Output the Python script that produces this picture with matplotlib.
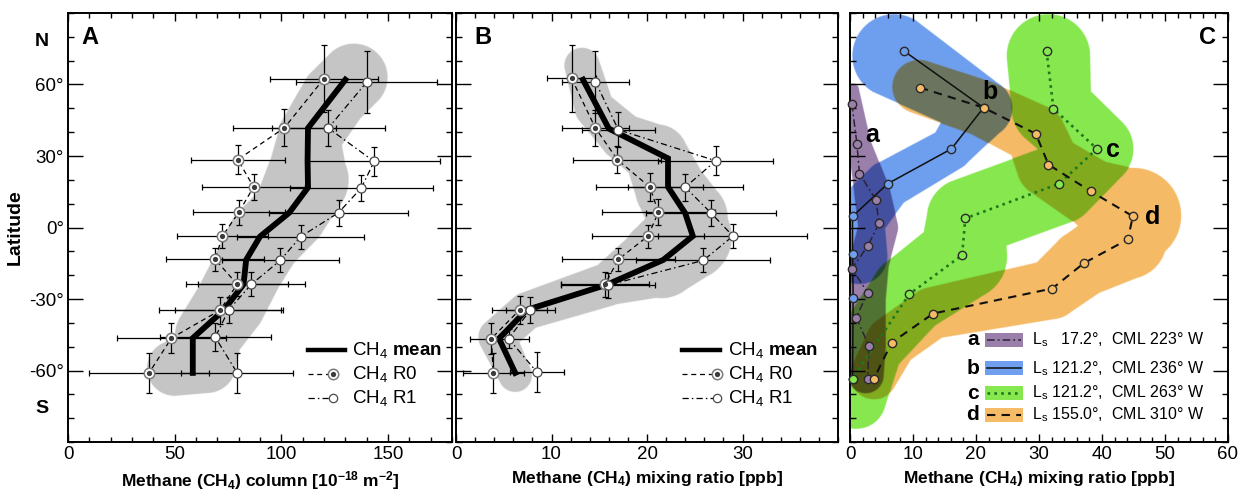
import numpy as np
import matplotlib
matplotlib.use('Agg')
import matplotlib.pyplot as plt
from matplotlib.colors import to_rgb
from matplotlib.patches import Rectangle
from matplotlib.ticker import MultipleLocator

plt.rcParams['font.family'] = ['Liberation Sans', 'DejaVu Sans']
plt.rcParams['mathtext.fontset'] = 'custom'
plt.rcParams['mathtext.rm'] = 'Liberation Sans'
plt.rcParams['mathtext.it'] = 'Liberation Sans:italic'
plt.rcParams['mathtext.bf'] = 'Liberation Sans:bold'

# ---------------- data: panel A (column, 10^-18 m^-2) ----------------
a_r0_lat = [62.5, 41.8, 28.5, 17.0, 6.3, -3.7, -13.4, -23.8, -34.7, -46.4, -61.0]
a_r0 = [120, 101.4, 79.6, 87, 80, 72.3, 69, 79.3, 71.3, 48.5, 38]
a_r0_xerr = [25.5, 24, 22, 24, 21.6, 21.3, 23, 24, 28.6, 25.5, 28]
a_r0_yerr = [14, 7.8, 6, 5.6, 5.4, 5, 5, 5, 5.7, 6.3, 8.4]
a_r1_lat = [61.0, 41.7, 27.7, 16.6, 6.2, -3.9, -13.8, -23.8, -34.6, -46.0, -61.0]
a_r1 = [140, 122, 143.5, 137.5, 126.8, 109, 99.5, 86, 75.3, 69, 79.3]
a_r1_xerr = [33, 26.6, 31, 33.6, 32.6, 29.8, 27.5, 25, 25.3, 26, 26.2]
a_r1_yerr = [13, 7.5, 6, 5.6, 5.4, 5, 5, 5, 5.5, 6, 8.4]
a_mean_lat = [62, 41.7, 28, 16.8, 6.2, -3.8, -13.6, -23.8, -34.7, -46.4, -61]
a_mean = [130, 112.5, 112.3, 112.5, 103.7, 90, 83.5, 82.3, 73, 58.5, 58.5]
# grey envelope (centre path, data units) and half width (px)
a_band_x = [50, 65, 66, 76, 84, 92, 104, 112, 113, 125, 134]
a_band_lat = [-59, -57, -45, -32, -18, -5, 6, 20, 38, 55, 63]
a_band_hw = [28, 30, 34, 36, 36, 38, 38, 42, 32, 34, 34]

# ---------------- data: panel B (mixing ratio, ppb) ----------------
b_r0_lat = [62.6, 41.7, 28.5, 16.9, 6.4, -3.6, -13.4, -23.8, -34.6, -46.6, -61.0]
b_r0 = [12.1, 14.6, 16.9, 20.3, 21.2, 20.1, 17.0, 15.6, 6.65, 3.7, 3.9]
b_r0_xerr = [2.6, 3.5, 4.6, 5.6, 5.9, 5.9, 5.9, 4.6, 2.85, 2.2, 3.2]
b_r0_yerr = [14, 7.7, 5.7, 5.9, 5.4, 4.8, 5, 5.2, 5.7, 6.6, 8.4]
b_r1_lat = [61.2, 41.0, 28.0, 16.9, 6.1, -3.6, -13.8, -24.2, -34.6, -46.6, -60.8]
b_r1 = [14.6, 17.0, 27.2, 24.0, 26.7, 29.0, 25.9, 15.9, 7.8, 5.5, 8.5]
b_r1_xerr = [3.5, 3.8, 6.0, 6.0, 6.8, 7.8, 7.0, 4.9, 2.6, 2.1, 2.8]
b_r1_yerr = [13, 7.3, 6, 5.6, 5.4, 5, 5, 5.2, 5.5, 4, 8.4]
b_mean_lat = [62, 41.5, 29, 17, 6, -3.6, -13.6, -24, -34.6, -46.6, -61]
b_mean = [13.3, 16.0, 22.2, 22.2, 24.0, 24.8, 21.7, 15.8, 7.4, 4.5, 6.2]
b_band_x = [13.2, 14.5, 17.5, 21.0, 22.5, 24.3, 24.3, 21.5, 15.8, 7.4, 4.3, 6.2]
b_band_lat = [68, 50, 38, 30, 16, 4, -4, -13, -24, -35, -46, -62]
b_band_hw = [18, 20, 24, 32, 36, 40, 44, 40, 22, 19, 19, 17]

# ---------------- data: panel C (individual observations, ppb) ----------------
c_names = ['a', 'b', 'c', 'd']
c_legend = [r'L$_\mathrm{s}$   17.2°,  CML 223° W',
            r'L$_\mathrm{s}$ 121.2°,  CML 236° W',
            r'L$_\mathrm{s}$ 121.2°,  CML 263° W',
            r'L$_\mathrm{s}$ 155.0°,  CML 310° W']
ca_lat = [51.9, 35.1, 22.6, 11.7, 1.7, -7.8, -17.3, -27.3, -37.8, -49.7, -63.5]
ca_x = [0.3, 1.1, 1.5, 4.1, 4.6, 2.8, 0.3, 2.8, 1.0, 3.0, 2.8]
cb_lat = [74, 50.3, 33, 18.4, 4.7, -11.3, -29.4, -63.5]
cb_x = [8.6, 21.2, 16.1, 6.0, 0.4, 0.4, 0.5, 0.4]
cc_lat = [74, 49.8, 33, 18.4, 3.8, -11.6, -28, -63.5]
cc_x = [31.2, 32.3, 39.2, 33.2, 18.3, 17.8, 9.4, 0.4]
cd_lat = [58.7, 50.3, 39.3, 26.4, 15.2, 4.7, -5, -15, -25.6, -36.1, -48.3, -63.5]
cd_x = [11.1, 21.2, 29.5, 31.5, 38.2, 44.9, 44.1, 37.1, 32.1, 13.2, 6.6, 3.8]
# coloured envelopes
ca_band_x = [0.5, 1.5, 3.5, 4.5, 3.0, 2.5, 2.5, 2.5]
ca_band_lat = [58, 35, 15, 0, -15, -30, -50, -62]
ca_band_hw = [6, 12, 18, 20, 20, 20, 20, 18]
cb_band_x = [7, 21, 16, 6, 1, 1.5]
cb_band_lat = [72, 50, 33, 18, 3, -12]
cb_band_hw = [42, 30, 22, 24, 28, 28]
cc_band_x = [31.5, 32, 39, 33, 18.5, 18, 9.5, 3, 1]
cc_band_lat = [72, 50, 33, 18, 4, -12, -28, -50, -72]
cc_band_hw = [42, 40, 38, 40, 40, 44, 40, 34, 30]
cd_band_x = [11, 21, 29.5, 31.5, 38, 45, 44, 37, 32, 13, 6.6, 3.8]
cd_band_lat = [59, 50, 39, 26, 15, 5, -5, -15, -26, -36, -48, -62]
cd_band_hw = [27, 28, 30, 32, 34, 48, 40, 34, 30, 26, 26, 24]

c_colors = ['#9a7fab', '#6f9fee', '#86e84e', '#f6bb66']
lat_ticks = [-60, -30, 0, 30, 60]
lat_labels = ['-60°', '-30°', '0°', '30°', '60°']


def draw_bands(ax, xlim, ylim, bands, scale=2):
    """Rasterise thick round-capped paths, overlaps blended multiplicatively."""
    fig = ax.figure
    bb = ax.get_position()
    W = bb.width * fig.get_figwidth() * fig.dpi
    H = bb.height * fig.get_figheight() * fig.dpi
    nx, ny = int(W * scale), int(H * scale)
    PX, PY = np.meshgrid((np.arange(nx) + 0.5) / scale, (np.arange(ny) + 0.5) / scale)
    img = np.ones((ny, nx, 3))
    alpha = np.zeros((ny, nx))
    for xs, ys, hws, color in bands:
        px = (np.asarray(xs, float) - xlim[0]) / (xlim[1] - xlim[0]) * W
        py = (np.asarray(ys, float) - ylim[0]) / (ylim[1] - ylim[0]) * H
        cov = np.zeros((ny, nx))
        for i in range(len(px) - 1):
            dx, dy = px[i + 1] - px[i], py[i + 1] - py[i]
            L2 = dx * dx + dy * dy
            t = np.clip(((PX - px[i]) * dx + (PY - py[i]) * dy) / L2, 0, 1)
            d = np.hypot(PX - px[i] - t * dx, PY - py[i] - t * dy)
            w = hws[i] + t * (hws[i + 1] - hws[i])
            cov = np.maximum(cov, np.clip(w - d + 0.5, 0, 1))
        rgb = np.array(to_rgb(color))
        img *= 1 - cov[..., None] * (1 - rgb)
        alpha = np.maximum(alpha, cov)
    ax.imshow(np.dstack([img, alpha]), extent=(xlim[0], xlim[1], ylim[0], ylim[1]),
              origin='lower', aspect='auto', interpolation='bilinear', zorder=0)


def style_axis(ax, xlim, xticks, xminor):
    ax.set_xlim(xlim)
    ax.set_ylim(-90, 90)
    ax.set_xticks(xticks)
    ax.xaxis.set_minor_locator(MultipleLocator(xminor))
    ax.set_yticks(lat_ticks)
    ax.yaxis.set_minor_locator(MultipleLocator(10))
    ax.tick_params(which='both', direction='in', top=True, right=True, labelsize=13.5, pad=3)
    ax.tick_params(axis='y', which='major', length=11, width=1.0)
    ax.tick_params(axis='y', which='minor', length=4.5, width=1.0)
    ax.tick_params(axis='x', which='major', length=6, width=1.0)
    ax.tick_params(axis='x', which='minor', length=3.5, width=1.0)
    for s in ax.spines.values():
        s.set_linewidth(1.4)


def profile_panel(ax, r0_lat, r0, r0_xe, r0_ye, r1_lat, r1, r1_xe, r1_ye, m_lat, m):
    eb = dict(fmt='none', ecolor='black', elinewidth=0.9, capsize=2.2, capthick=0.9, zorder=2)
    ax.errorbar(r0, r0_lat, xerr=r0_xe, yerr=r0_ye, **eb)
    ax.errorbar(r1, r1_lat, xerr=r1_xe, yerr=r1_ye, **eb)
    ax.plot(r0, r0_lat, ls=(0, (4, 3)), color='k', lw=0.9, zorder=3)
    ax.plot(r1, r1_lat, ls=(0, (5, 2.5, 1.2, 2.5)), color='k', lw=0.9, zorder=3)
    ax.plot(m, m_lat, color='k', lw=4.2, solid_joinstyle='miter', zorder=4)
    ax.plot(r0, r0_lat, 'o', ms=7.5, mfc='white', mec='#7a7a7a', mew=1.1, zorder=5)
    ax.plot(r0, r0_lat, 'o', ms=3.8, mfc='#3c3c3c', mec='none', zorder=6)
    ax.plot(r1, r1_lat, 'o', ms=6.5, mfc='white', mec='#4a4a4a', mew=0.9, zorder=5)


def profile_legend(ax, x0, x1, xm, xt, ys):
    tr = ax.transAxes
    fs = 13.5
    ax.plot([x0, x1], [ys[0]] * 2, color='k', lw=3.2, transform=tr, zorder=7)
    ax.text(xt, ys[0], r'CH$_4$ $\mathbf{mean}$', transform=tr, fontsize=fs, va='center')
    ax.plot([x0, xm], [ys[1]] * 2, ls=(0, (4, 3)), color='k', lw=0.9, transform=tr, zorder=7)
    ax.plot([xm], [ys[1]], 'o', ms=7.5, mfc='white', mec='#7a7a7a', mew=1.1, transform=tr, zorder=7)
    ax.plot([xm], [ys[1]], 'o', ms=3.8, mfc='#3c3c3c', mec='none', transform=tr, zorder=8)
    ax.text(xt, ys[1], r'CH$_4$ R0', transform=tr, fontsize=fs, va='center')
    ax.plot([x0, xm], [ys[2]] * 2, ls=(0, (5, 2.5, 1.2, 2.5)), color='k', lw=0.9, transform=tr, zorder=7)
    ax.plot([xm], [ys[2]], 'o', ms=6.0, mfc='white', mec='#4a4a4a', mew=0.9, transform=tr, zorder=7)
    ax.text(xt, ys[2], r'CH$_4$ R1', transform=tr, fontsize=fs, va='center')


fig = plt.figure(figsize=(12.42, 4.94), dpi=100)
axA = fig.add_axes([68 / 1242, 52 / 494, 384 / 1242, 429 / 494])
axB = fig.add_axes([456 / 1242, 52 / 494, 382 / 1242, 429 / 494])
axC = fig.add_axes([850 / 1242, 52 / 494, 378 / 1242, 429 / 494])

xlabel_kw = dict(fontsize=12.5, fontweight='bold', labelpad=4)

# ---- panel A ----
draw_bands(axA, (0, 180), (-90, 90), [(a_band_x, a_band_lat, a_band_hw, '#c6c6c6')])
profile_panel(axA, a_r0_lat, a_r0, a_r0_xerr, a_r0_yerr, a_r1_lat, a_r1, a_r1_xerr, a_r1_yerr,
              a_mean_lat, a_mean)
style_axis(axA, (0, 180), [0, 50, 100, 150], 10)
axA.set_yticklabels(lat_labels)
axA.set_ylabel('Latitude', fontsize=14, fontweight='bold', labelpad=4)
axA.set_xlabel(r'Methane (CH$_\mathbf{4}$) column [10$^\mathbf{-18}$ m$^\mathbf{-2}$]', **xlabel_kw)
axA.text(0.057, 0.942, 'A', transform=axA.transAxes, fontsize=17, fontweight='bold',
         ha='center', va='center')
axA.text(-0.068, 78, 'N', transform=axA.get_yaxis_transform(), fontsize=14,
         fontweight='bold', ha='center', va='center')
axA.text(-0.068, -76, 'S', transform=axA.get_yaxis_transform(), fontsize=14,
         fontweight='bold', ha='center', va='center')
profile_legend(axA, 0.625, 0.722, 0.690, 0.740, [0.214, 0.159, 0.103])

# ---- panel B ----
draw_bands(axB, (0, 40), (-90, 90), [(b_band_x, b_band_lat, b_band_hw, '#c6c6c6')])
profile_panel(axB, b_r0_lat, b_r0, b_r0_xerr, b_r0_yerr, b_r1_lat, b_r1, b_r1_xerr, b_r1_yerr,
              b_mean_lat, b_mean)
style_axis(axB, (0, 40), [0, 10, 20, 30], 2)
axB.set_yticklabels([])
axB.set_xlabel(r'Methane (CH$_\mathbf{4}$) mixing ratio [ppb]', **xlabel_kw)
axB.text(0.071, 0.942, 'B', transform=axB.transAxes, fontsize=17, fontweight='bold',
         ha='center', va='center')
profile_legend(axB, 0.592, 0.691, 0.683, 0.712, [0.214, 0.159, 0.103])

# ---- panel C ----
c_series = [(ca_x, ca_lat), (cb_x, cb_lat), (cc_x, cc_lat), (cd_x, cd_lat)]
c_bands = [(ca_band_x, ca_band_lat, ca_band_hw), (cb_band_x, cb_band_lat, cb_band_hw),
           (cc_band_x, cc_band_lat, cc_band_hw), (cd_band_x, cd_band_lat, cd_band_hw)]
draw_bands(axC, (0, 60), (-90, 90),
           [(bx, by, bw, col) for (bx, by, bw), col in zip(c_bands, c_colors)])
c_line_styles = [dict(ls=(0, (5, 2, 1.2, 2)), color='#2e2233', lw=1.1),
                 dict(ls='-', color='#101010', lw=1.1),
                 dict(ls=(0, (1, 1.6)), color='#1c7a1c', lw=1.9),
                 dict(ls=(0, (4, 3)), color='#111111', lw=1.5)]
c_order = [0, 2, 3, 1]
for i in c_order:
    xs, ys = c_series[i]
    axC.plot(xs, ys, zorder=3 + i * 0.1, **c_line_styles[i])
    axC.plot(xs, ys, 'o', ms=6, mfc=c_colors[i], mec='#2a2a2a', mew=1.0, zorder=5 + i * 0.1,
             clip_on=False)
for name, (lx, ly) in zip(c_names, [(3.5, 39), (22.2, 57), (41.7, 32.6), (48.1, 4.2)]):
    axC.text(lx, ly, name, fontsize=18, fontweight='bold', ha='center', va='center', zorder=7)
style_axis(axC, (0, 60), [0, 10, 20, 30, 40, 50, 60], 2)
axC.set_yticklabels([])
axC.set_xlabel(r'Methane (CH$_\mathbf{4}$) mixing ratio [ppb]', **xlabel_kw)
axC.text(0.947, 0.942, 'C', transform=axC.transAxes, fontsize=17, fontweight='bold',
         ha='center', va='center')
tr = axC.transAxes
for k, yrow in enumerate([0.238, 0.172, 0.114, 0.063]):
    axC.text(0.325, yrow, c_names[k], transform=tr, fontsize=15, fontweight='bold',
             ha='center', va='center', zorder=8)
    axC.add_patch(Rectangle((0.357, yrow - 0.016), 0.101, 0.032, transform=tr,
                            facecolor=c_colors[k], edgecolor='none', zorder=7))
    axC.plot([0.362, 0.453], [yrow, yrow], transform=tr, zorder=8, **c_line_styles[k])
    axC.text(0.481, yrow, c_legend[k], transform=tr, fontsize=11.5, va='center', zorder=8)

fig.savefig('out.png', dpi=100)
